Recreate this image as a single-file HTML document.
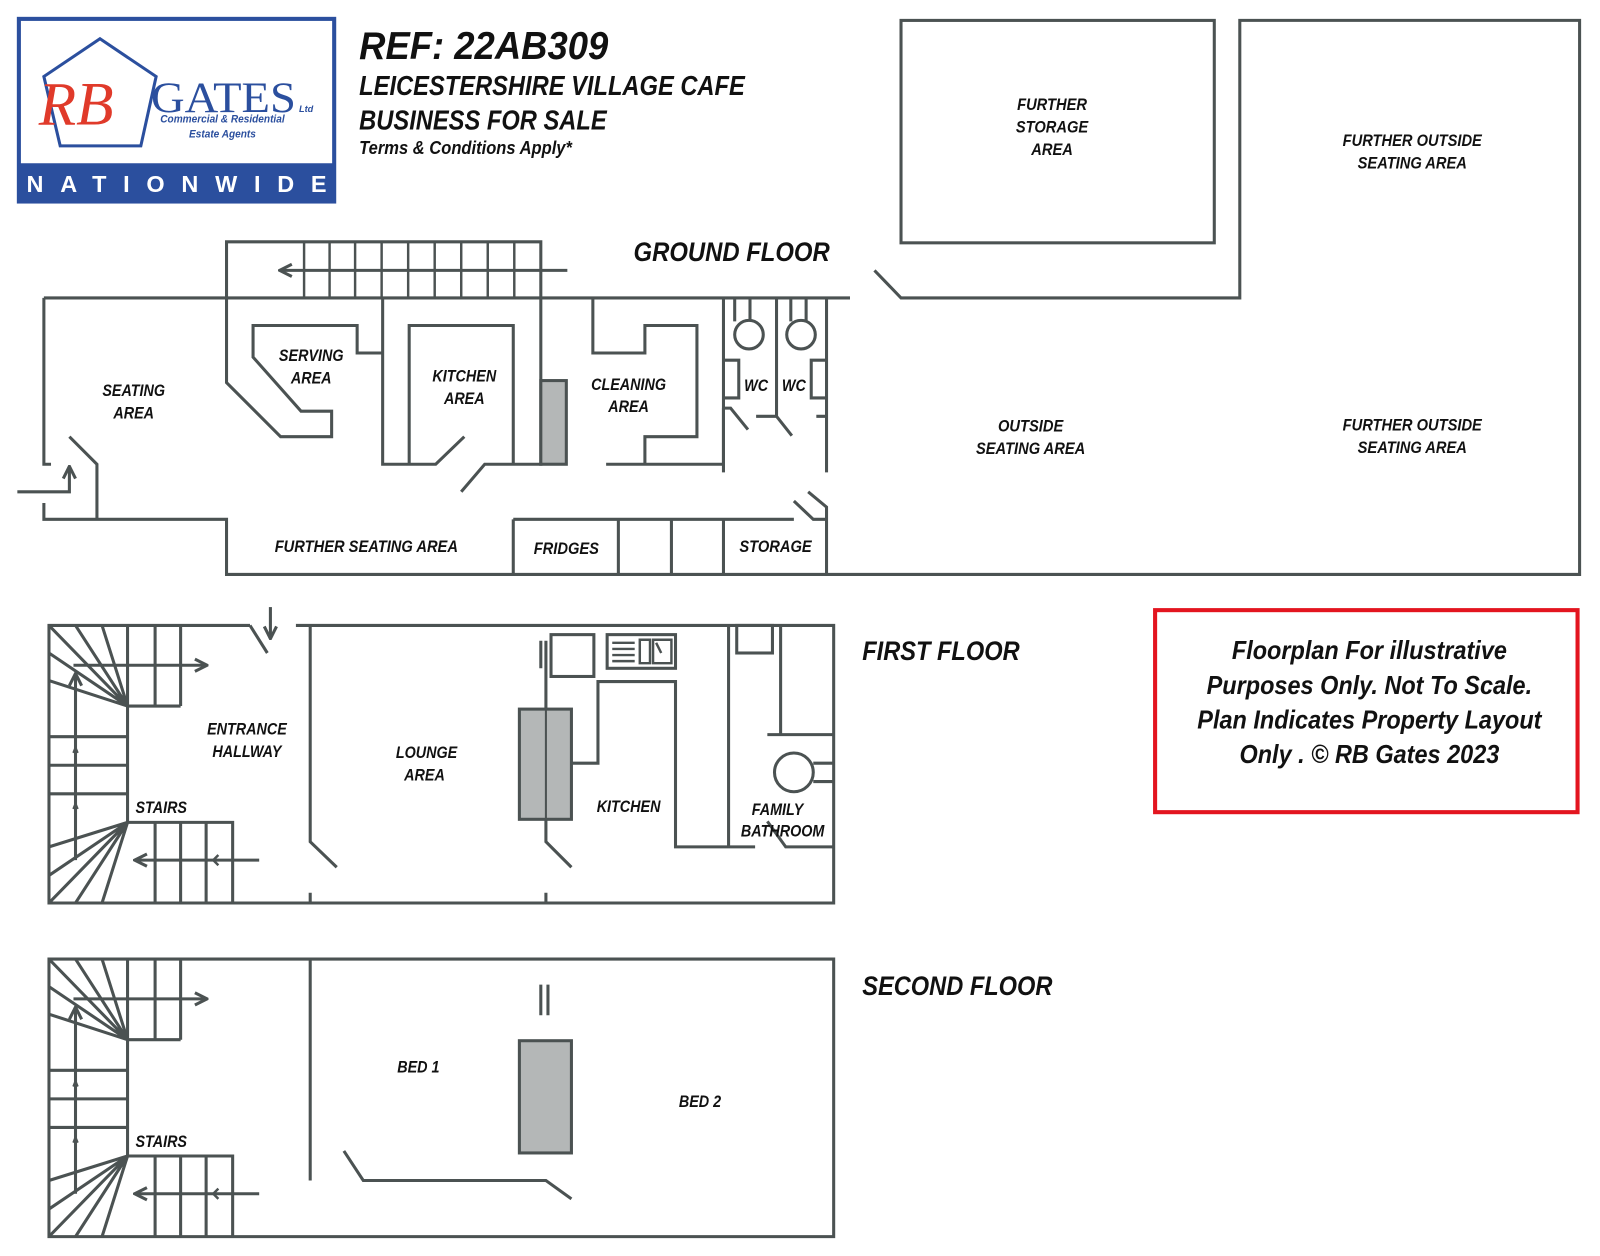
<!DOCTYPE html>
<html><head><meta charset="utf-8"><style>
html,body{margin:0;padding:0;background:#fff}
svg{display:block}
text{font-family:"Liberation Sans Narrow","Liberation Sans",sans-serif;font-weight:bold;font-style:italic;fill:#111}
.l{font-size:16px;text-anchor:middle}
.w{fill:none;stroke:#4b5252;stroke-width:3;stroke-linejoin:miter}
.t{fill:none;stroke:#4b5252;stroke-width:2.4}
</style></head><body>
<svg width="1600" height="1256" viewBox="0 0 1568 1231" preserveAspectRatio="none" xmlns="http://www.w3.org/2000/svg">
<defs>
<marker id="ae" viewBox="0 0 10 10" refX="9" refY="5" markerWidth="5" markerHeight="5" orient="auto"><path d="M1,1 L9,5 L1,9" fill="none" stroke="#4b5252" stroke-width="2"/></marker>
</defs>
<!-- logo -->
<rect x="18.5" y="18.5" width="309" height="179" fill="#fff" stroke="#2b4f9e" stroke-width="4"/>
<rect x="18" y="160" width="311" height="38" fill="#2b4f9e"/>
<text x="26" y="188" style="font-family:'Liberation Sans',sans-serif;font-style:normal;font-size:23px;fill:#fff" textLength="294" lengthAdjust="spacing">NATIONWIDE</text>
<path d="M98,38 L153,75 L138,143 L59,143 L43,75 Z" fill="none" stroke="#2b4f9e" stroke-width="3"/>
<text x="38" y="122" style="font-family:'Liberation Serif',serif;font-size:60px;fill:#e03a2a;font-weight:normal">RB</text>
<text x="148" y="110" style="font-family:'Liberation Serif',serif;font-style:normal;font-weight:normal;font-size:42px;fill:#2b4f9e" textLength="142" lengthAdjust="spacingAndGlyphs">GATES</text>
<text x="293" y="110" style="font-size:9px;fill:#2b4f9e">Ltd</text>
<text transform="translate(218,120) scale(0.9,1)" class="l" style="font-size:11px;fill:#2b4f9e">Commercial &amp; Residential</text>
<text transform="translate(218,135) scale(0.9,1)" class="l" style="font-size:11px;fill:#2b4f9e">Estate Agents</text>
<!-- title -->
<text transform="translate(352,58) scale(0.94,1)" style="font-size:38px">REF: 22AB309</text>
<text transform="translate(352,93) scale(0.86,1)" style="font-size:27px">LEICESTERSHIRE VILLAGE CAFE</text>
<text transform="translate(352,127) scale(0.86,1)" style="font-size:27px">BUSINESS FOR SALE</text>
<text transform="translate(352,151) scale(0.9,1)" style="font-size:18px">Terms &amp; Conditions Apply*</text>
<text transform="translate(717,256) scale(0.9,1)" class="l" style="font-size:26px">GROUND FLOOR</text>
<text transform="translate(845,647) scale(0.89,1)" style="font-size:26px">FIRST FLOOR</text>
<text transform="translate(845,975) scale(0.89,1)" style="font-size:26px">SECOND FLOOR</text>
<!-- GROUND FLOOR -->
<g class="w">
<path d="M222,292 V237 H530 V292"/>
<path d="M298,237V292M323,237V292M348,237V292M374,237V292M400,237V292M426,237V292M452,237V292M478,237V292M504,237V292" class="t"/>
<path d="M556,265 H274" marker-end="url(#ae)"/>
<path d="M43,292 H833"/>
<path d="M43,292 V455 H50 M43,493 V509 H222 V563 H1548 V20 H1215 V292 H883 L857,265"/>
<path d="M17,482 H68 V457" marker-end="url(#ae)"/>
<path d="M68,428 L95,455 V509"/>
<path d="M222,292 V375 L275,428 H325 V403 H295 L248,350 V319 H350 V346 H375"/>
<path d="M375,292 V455 H427 L455,428"/>
<path d="M401,455 V319 H503 V455"/>
<path d="M452,482 L475,455 H530 V292"/>
<path d="M581,292 V346 H632 V319 H683 V428 H632 V455 M594,455 H709 V292"/>
<path d="M720,292 V315 M735,292 V315 M775,292 V315 M790,292 V315"/>
<circle cx="734" cy="328" r="14"/><circle cx="785" cy="328" r="14"/>
<path d="M709,353 H724 V390 H709 M810,353 H795 V390 H810"/>
<path d="M761,292 V408 H741 M761,408 L776,427 M709,400 H716 L733,421 M800,408 H810"/>
<path d="M709,400 V463 M810,292 V463"/>
<path d="M503,509 H778 M778,491 L797,509 H810 M792,482 L810,497 V563"/>
<path d="M503,509 V563 M606,509 V563 M658,509 V563 M709,509 V563"/>
<rect x="883" y="20" width="307" height="218"/>
</g>
<rect x="530" y="373" width="25" height="82" fill="#b4b7b7" stroke="#4b5252" stroke-width="3"/>
<g class="l">
<text class="l" transform="translate(131,388) scale(0.88,1)">SEATING</text><text class="l" transform="translate(131,410) scale(0.88,1)">AREA</text>
<text class="l" transform="translate(305,354) scale(0.88,1)">SERVING</text><text class="l" transform="translate(305,376) scale(0.88,1)">AREA</text>
<text class="l" transform="translate(455,374) scale(0.88,1)">KITCHEN</text><text class="l" transform="translate(455,396) scale(0.88,1)">AREA</text>
<text class="l" transform="translate(616,382) scale(0.88,1)">CLEANING</text><text class="l" transform="translate(616,404) scale(0.88,1)">AREA</text>
<text class="l" transform="translate(741,383) scale(0.88,1)">WC</text><text class="l" transform="translate(778,383) scale(0.88,1)">WC</text>
<text class="l" transform="translate(359,541) scale(0.9,1)">FURTHER SEATING AREA</text>
<text class="l" transform="translate(555,543) scale(0.9,1)">FRIDGES</text>
<text class="l" transform="translate(760,541) scale(0.9,1)">STORAGE</text>
<text class="l" transform="translate(1010,423) scale(0.9,1)">OUTSIDE</text><text class="l" transform="translate(1010,445) scale(0.9,1)">SEATING AREA</text>
<text class="l" transform="translate(1384,143) scale(0.9,1)">FURTHER OUTSIDE</text><text class="l" transform="translate(1384,165) scale(0.9,1)">SEATING AREA</text>
<text class="l" transform="translate(1384,422) scale(0.9,1)">FURTHER OUTSIDE</text><text class="l" transform="translate(1384,444) scale(0.9,1)">SEATING AREA</text>
<text class="l" transform="translate(1031,108) scale(0.9,1)">FURTHER</text><text class="l" transform="translate(1031,130) scale(0.9,1)">STORAGE</text><text class="l" transform="translate(1031,152) scale(0.9,1)">AREA</text>
</g>
<!-- FIRST FLOOR -->
<g class="w">
<path d="M245,613 H48 V885 H817 V613 H290"/>
<path d="M245,613 L262,640"/>
<path d="M48,613 L125,692 M74,613 L125,692 M100,613 L125,692 M48,640 L125,692 M48,667 L125,692"/>
<path d="M125,613 V692 M152,613 V692 M177,613 V692 M72,652 H177 M125,692 H177"/>
<path d="M177,652 H203" marker-end="url(#ae)"/>
<path d="M48,722 H125 M48,750 H125 M48,778 H125 M125,692 V806"/>
<path d="M74,843 V660" marker-end="url(#ae)"/>
<path d="M72,738 l2,-5 2,5 M72,793 l2,-5 2,5" class="t"/>
<path d="M48,830 L125,806 M48,858 L125,806 M48,885 L125,806 M74,885 L125,806 M100,885 L125,806"/>
<path d="M125,806 H228 V885 M152,806 V885 M177,806 V885 M202,806 V885"/>
<path d="M254,843 H132" marker-end="url(#ae)"/>
<path d="M214,838 l-5,5 5,5" class="t"/>
<path d="M265,595 V626" marker-end="url(#ae)"/>
<path d="M304,613 V825 L330,850 M304,875 V885"/>
<path d="M530,628 V655 M535,628 V825 L560,850 M535,875 V885"/>
<rect x="540" y="622" width="42" height="41"/>
<rect x="595" y="622" width="67" height="33"/>
<path d="M600,630 H622 M600,636 H622 M600,642 H622 M600,648 H622 M627,627 V650 H637 V627 Z M640,627 V650 H658 V627 Z M643,630 L648,640" class="t"/>
<path d="M560,748 H586 V668 H662 V830 H740"/>
<path d="M714,613 V830"/>
<rect x="722" y="613" width="35" height="27"/>
<path d="M765,613 V720 M752,720 H817"/>
<circle cx="778" cy="757" r="19"/>
<path d="M797,748 H817 M797,766 H817"/>
<path d="M752,805 L770,830 H817"/>
</g>
<rect x="509" y="695" width="51" height="108" fill="#b4b7b7" stroke="#4b5252" stroke-width="3"/>
<path d="M535,695 V803" stroke="#4b5252" stroke-width="2"/>
<text class="l" transform="translate(242,720) scale(0.88,1)">ENTRANCE</text><text class="l" transform="translate(242,742) scale(0.88,1)">HALLWAY</text>
<text class="l" transform="translate(418,743) scale(0.88,1)">LOUNGE</text><text class="l" transform="translate(416,765) scale(0.88,1)">AREA</text>
<text class="l" transform="translate(158,797) scale(0.88,1)">STAIRS</text>
<text class="l" transform="translate(616,796) scale(0.88,1)">KITCHEN</text>
<text class="l" transform="translate(762,799) scale(0.88,1)">FAMILY</text><text class="l" transform="translate(767,820) scale(0.88,1)">BATHROOM</text>
<!-- SECOND FLOOR -->
<g transform="translate(0,327)">
<g class="w">
<path d="M245,613 H48 V885 H817 V613 H245"/>
<path d="M48,613 L125,692 M74,613 L125,692 M100,613 L125,692 M48,640 L125,692 M48,667 L125,692"/>
<path d="M125,613 V692 M152,613 V692 M177,613 V692 M72,652 H177 M125,692 H177"/>
<path d="M177,652 H203" marker-end="url(#ae)"/>
<path d="M48,722 H125 M48,750 H125 M48,778 H125 M125,692 V806"/>
<path d="M74,843 V660" marker-end="url(#ae)"/>
<path d="M72,738 l2,-5 2,5 M72,793 l2,-5 2,5" class="t"/>
<path d="M48,830 L125,806 M48,858 L125,806 M48,885 L125,806 M74,885 L125,806 M100,885 L125,806"/>
<path d="M125,806 H228 V885 M152,806 V885 M177,806 V885 M202,806 V885"/>
<path d="M254,843 H132" marker-end="url(#ae)"/>
<path d="M214,838 l-5,5 5,5" class="t"/>
<path d="M304,613 V830 M337,801 L356,830 H535 L560,848"/>
<path d="M530,638 V668 M537,638 V668"/>
</g>
<rect x="509" y="693" width="51" height="110" fill="#b4b7b7" stroke="#4b5252" stroke-width="3"/>
<text class="l" transform="translate(158,797) scale(0.88,1)">STAIRS</text>
</g>
<text class="l" transform="translate(410,1051) scale(0.88,1)">BED 1</text>
<text class="l" transform="translate(686,1085) scale(0.88,1)">BED 2</text>
<!-- note -->
<rect x="1132" y="598" width="414" height="198" fill="none" stroke="#e3151f" stroke-width="4"/>
<text text-anchor="middle" transform="translate(1342,646) scale(0.92,1)" style="font-size:25px">Floorplan For illustrative</text>
<text text-anchor="middle" transform="translate(1342,680) scale(0.92,1)" style="font-size:25px">Purposes Only. Not To Scale.</text>
<text text-anchor="middle" transform="translate(1342,714) scale(0.92,1)" style="font-size:25px">Plan Indicates Property Layout</text>
<text text-anchor="middle" transform="translate(1342,748) scale(0.92,1)" style="font-size:25px">Only . © RB Gates 2023</text>
</svg>
</body></html>
